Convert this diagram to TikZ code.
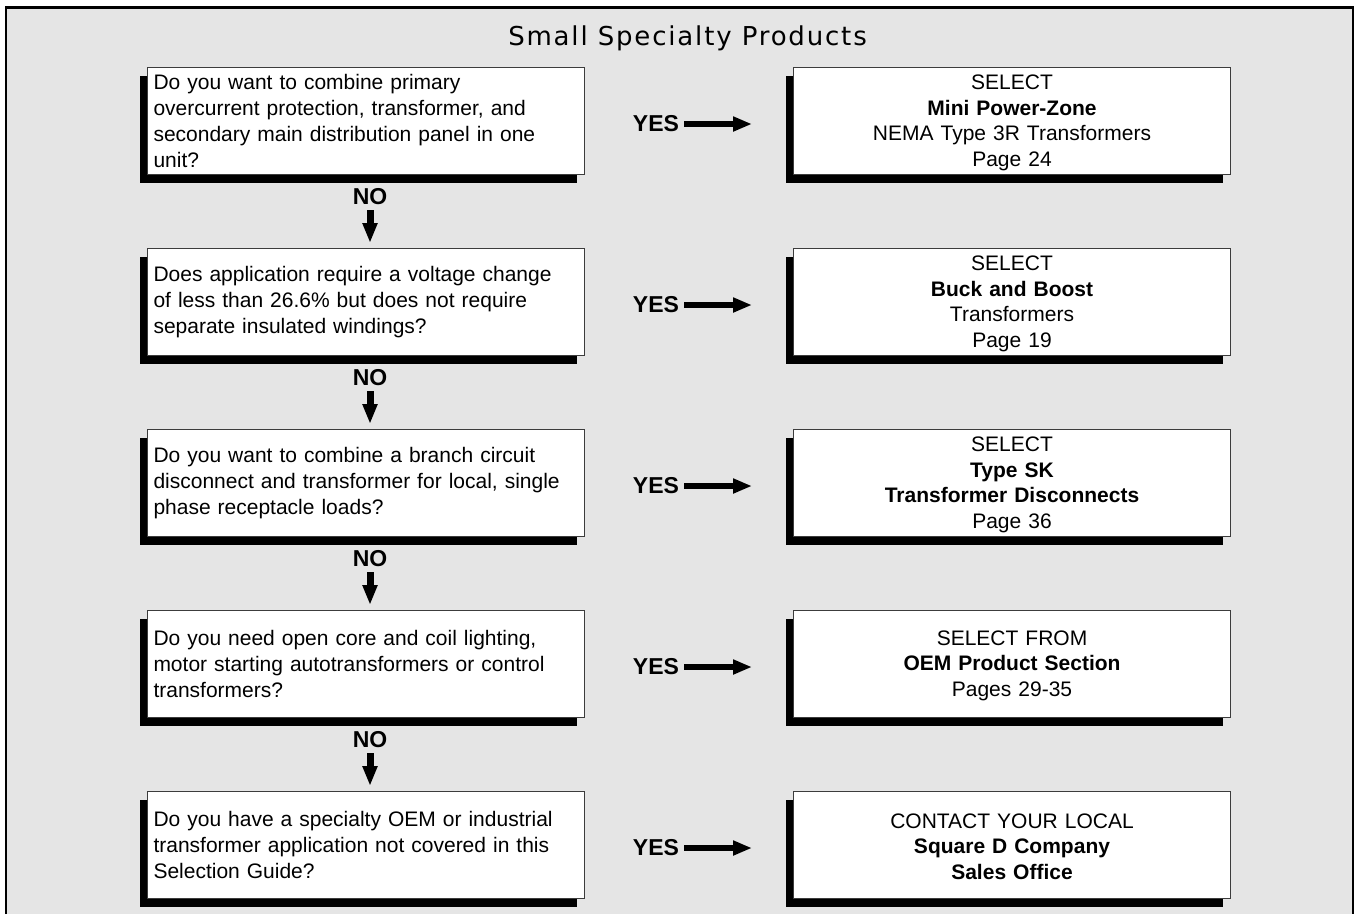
\documentclass[tikz,border=0pt]{standalone}
\usepackage{fontspec}
\setmainfont{Liberation Sans}
\newfontfamily\titlefont[LetterSpace=7]{DejaVu Sans}
\usetikzlibrary{arrows.meta,shadows}
\definecolor{bg}{RGB}{229,229,229}
\definecolor{edge}{RGB}{60,60,60}
\tikzset{
  qbox/.style={draw=edge, line width=1pt, fill=white, rectangle, anchor=north west,
    minimum width=437pt, minimum height=107pt, text width=425pt, inner xsep=6pt,
    align=left, font=\fontsize{21}{26}\selectfont,
    drop shadow={shadow xshift=-8pt, shadow yshift=-8pt, fill=black, opacity=1}},
  abox/.style={qbox, align=center, font=\fontsize{21}{25.5}\selectfont},
  lbl/.style={inner sep=0pt, font=\fontsize{23}{26}\selectfont\bfseries},
  harrow/.style={line width=6.5pt, -{Triangle[length=19pt,width=14pt]}, shorten <=5pt, shorten >=41pt},
  varrow/.style={line width=7pt, -{Triangle[length=20pt,width=14pt]}, shorten <=5pt, shorten >=5pt}
}
\begin{document}
\begin{tikzpicture}[x=1pt,y=-1pt]
\useasboundingbox (0,0) rectangle (1356,914);
\fill[white] (0,0) rectangle (1356,914);
\fill[bg] (6,7.5) rectangle (1353,914);
\draw[line width=2.5pt] (6,914) -- (6,7.5) -- (1353,7.5) -- (1353,914);
\node[font=\titlefont\fontsize{26}{30}\selectfont] (title) at (687.5,38.5) {Small Specialty Products};

\node[qbox] (q1) at (147,67) {Do you want to combine primary\\overcurrent protection, transformer, and\\secondary main distribution panel in one\\unit?};
\node[qbox] (q2) at (147,248) {Does application require a voltage change\\of less than 26.6\% but does not require\\separate insulated windings?};
\node[qbox] (q3) at (147,429) {Do you want to combine a branch circuit\\disconnect and transformer for local, single\\phase receptacle loads?};
\node[qbox] (q4) at (147,610) {Do you need open core and coil lighting,\\motor starting autotransformers or control\\transformers?};
\node[qbox] (q5) at (147,791) {Do you have a specialty OEM or industrial\\transformer application not covered in this\\Selection Guide?};

\node[abox] (r1) at (793,67) {\vphantom{Ag}\\[-22pt]SELECT\\\textbf{Mini Power-Zone}\\NEMA Type 3R Transformers\\Page 24};
\node[abox] (r2) at (793,248) {\vphantom{Ag}\\[-22pt]SELECT\\\textbf{Buck and Boost}\\Transformers\\Page 19};
\node[abox] (r3) at (793,429) {\vphantom{Ag}\\[-22pt]SELECT\\\textbf{Type SK}\\\textbf{Transformer Disconnects}\\Page 36};
\node[abox] (r4) at (793,610) {\vphantom{Ag}\\[-22pt]SELECT FROM\\\textbf{OEM Product Section}\\Pages 29-35};
\node[abox] (r5) at (793,791) {\vphantom{Ag}\\[-22pt]CONTACT YOUR LOCAL\\\textbf{Square D Company}\\\textbf{Sales Office}};

\foreach \i/\t in {1/67,2/248,3/429,4/610,5/791}{
  \node[lbl] (yes\i) at (656,\t+57) {YES};
  \draw[harrow] (yes\i.east) -- (yes\i.east -| r\i.west);
}
\foreach \i/\j/\t in {1/2/67,2/3/248,3/4/429,4/5/610}{
  \node[lbl] (no\i) at (370,\t+130) {NO};
  \draw[varrow] (no\i.south) -- (no\i.south |- q\j.north);
}
\end{tikzpicture}
\end{document}
